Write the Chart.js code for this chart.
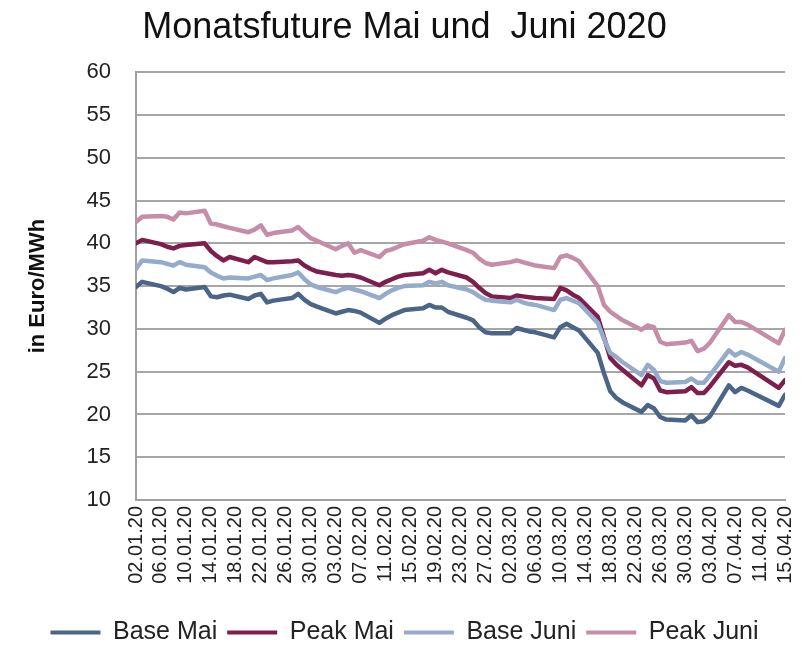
<!DOCTYPE html>
<html>
<head>
<meta charset="utf-8">
<script src="https://cdn.jsdelivr.net/npm/chart.js@4.4.1/dist/chart.umd.min.js"></script>
<style>
html,body{margin:0;padding:0;background:#fff;}
canvas{display:block;}
</style>
</head>
<body>
<canvas id="c" width="802" height="646"></canvas>
<script>
// ---- data ----
const startDate = '02.01.20';
const tradingDays = [
 '02.01.20','03.01.20','06.01.20','07.01.20','08.01.20','09.01.20','10.01.20','13.01.20','14.01.20','15.01.20','16.01.20','17.01.20','20.01.20','21.01.20','22.01.20','23.01.20','24.01.20','27.01.20','28.01.20','29.01.20','30.01.20','31.01.20',
 '03.02.20','04.02.20','05.02.20','06.02.20','07.02.20','10.02.20','11.02.20','12.02.20','13.02.20','14.02.20','17.02.20','18.02.20','19.02.20','20.02.20','21.02.20','24.02.20','25.02.20','26.02.20','27.02.20','28.02.20',
 '02.03.20','03.03.20','04.03.20','05.03.20','06.03.20','09.03.20','10.03.20','11.03.20','12.03.20','13.03.20','16.03.20','17.03.20','18.03.20','19.03.20','20.03.20','23.03.20','24.03.20','25.03.20','26.03.20','27.03.20','30.03.20','31.03.20',
 '01.04.20','02.04.20','03.04.20','06.04.20','07.04.20','08.04.20','09.04.20','14.04.20','15.04.20'
];
const baseMai = [
 34.9,35.5,35.0,34.7,34.3,34.8,34.6,34.9,33.8,33.7,33.9,34.0,33.5,33.9,34.1,33.1,33.3,33.6,34.1,33.4,32.9,32.6,
 31.8,32.0,32.2,32.1,31.9,30.7,31.2,31.6,31.9,32.2,32.4,32.8,32.5,32.5,32.0,31.3,31.0,30.2,29.6,29.5,
 29.5,30.1,29.9,29.7,29.6,29.0,30.2,30.6,30.2,29.8,27.2,24.8,22.7,21.9,21.4,20.3,21.1,20.7,19.7,19.4,19.3,19.9,
 19.1,19.2,19.8,23.4,22.6,23.1,22.8,21.0,22.3
];
const peakMai = [
 40.0,40.4,39.9,39.6,39.4,39.7,39.8,40.0,39.1,38.5,38.0,38.4,37.8,38.4,38.1,37.8,37.8,37.9,38.0,37.4,37.0,36.7,
 36.3,36.2,36.3,36.2,36.0,35.1,35.5,35.8,36.1,36.3,36.5,36.9,36.5,36.9,36.6,36.0,35.5,34.8,34.2,33.8,
 33.6,33.9,33.8,33.7,33.6,33.5,34.8,34.5,34.0,33.6,31.4,29.0,26.6,25.8,25.2,23.4,24.6,24.2,22.8,22.6,22.7,23.2,
 22.5,22.5,23.3,26.1,25.7,25.8,25.5,23.1,24.0
];
const baseJuni = [
 37.0,38.0,37.8,37.6,37.4,37.8,37.5,37.2,36.6,36.2,35.9,36.0,35.9,36.1,36.3,35.7,35.9,36.3,36.6,35.8,35.2,34.9,
 34.3,34.6,34.8,34.6,34.4,33.6,34.1,34.5,34.8,35.0,35.1,35.5,35.3,35.5,35.1,34.6,34.3,33.8,33.4,33.3,
 33.1,33.4,33.1,32.9,32.8,32.2,33.4,33.6,33.3,33.0,30.7,28.8,27.2,26.7,26.1,24.6,25.8,25.2,23.9,23.7,23.8,24.2,
 23.7,23.7,24.6,27.5,26.9,27.3,27.0,25.0,26.6
];
const peakJuni = [
 42.5,43.1,43.2,43.1,42.8,43.6,43.5,43.8,42.3,42.2,42.0,41.8,41.3,41.6,42.1,41.0,41.2,41.5,41.9,41.2,40.6,40.3,
 39.3,39.7,40.0,38.9,39.2,38.4,39.1,39.3,39.6,39.9,40.3,40.7,40.4,40.2,40.0,39.2,38.9,38.2,37.7,37.5,
 37.8,38.0,37.8,37.6,37.4,37.1,38.4,38.6,38.3,37.9,35.0,32.8,32.0,31.5,31.0,29.9,30.4,30.2,28.5,28.2,28.4,28.6,
 27.4,27.7,28.4,31.6,30.8,30.8,30.5,28.3,29.9
];
const tickLabels = [
 '02.01.20','06.01.20','10.01.20','14.01.20','18.01.20','22.01.20','26.01.20','30.01.20',
 '03.02.20','07.02.20','11.02.20','15.02.20','19.02.20','23.02.20','27.02.20',
 '02.03.20','06.03.20','10.03.20','14.03.20','18.03.20','22.03.20','26.03.20','30.03.20',
 '03.04.20','07.04.20','11.04.20','15.04.20'
];
const seriesNames = ['Base Mai','Peak Mai','Base Juni','Peak Juni'];
const seriesColors = ['#4b6587','#7e1e4c','#94abcb','#c68da9'];
const yTicks = {min: 10, max: 60, step: 5};

// ---- helpers ----
function parseDate(s){ const p = s.split('.').map(Number); return Date.UTC(2000+p[2], p[1]-1, p[0]); }
const DAY = 86400000;
const t0 = parseDate(startDate);
const dayIndex = s => Math.round((parseDate(s) - t0) / DAY);
const lastIndex = dayIndex(tickLabels[tickLabels.length-1]);
const tickStep = dayIndex(tickLabels[1]);

const seriesValues = [baseMai, peakMai, baseJuni, peakJuni];
const drawOrder = [3, 2, 1, 0];

Chart.defaults.font.family = "'Liberation Sans', Arial, sans-serif";
Chart.defaults.color = '#222';

const datasets = seriesNames.map((name, k) => ({
  label: name,
  data: tradingDays.map((d, i) => ({x: dayIndex(d), y: seriesValues[k][i]})),
  borderColor: seriesColors[k],
  backgroundColor: seriesColors[k],
  borderWidth: 4.5,
  borderJoinStyle: 'round',
  borderCapStyle: 'round',
  pointRadius: 0,
  pointHoverRadius: 0,
  tension: 0,
  fill: false,
  order: drawOrder[k]
}));

new Chart(document.getElementById('c'), {
  type: 'line',
  data: {datasets},
  options: {
    responsive: false,
    animation: false,
    events: [],
    layout: {padding: {left: 24, right: 17, top: 0, bottom: -9}},
    plugins: {
      title: {
        display: true,
        text: 'Monatsfuture Mai und  Juni 2020',
        color: '#111',
        font: {size: 36, weight: 'normal'},
        padding: {top: 6, bottom: 23}
      },
      legend: {
        position: 'bottom',
        labels: {
          font: {size: 25},
          color: '#222',
          boxWidth: 50,
          boxHeight: 4,
          padding: 10,
          sort: (a, b) => a.datasetIndex - b.datasetIndex,
          generateLabels: (chart) => Chart.defaults.plugins.legend.labels.generateLabels(chart).map(l => Object.assign(l, {lineWidth: 0}))
        }
      },
      tooltip: {enabled: false}
    },
    scales: {
      x: {
        type: 'linear',
        min: 0,
        max: lastIndex,
        grid: {display: false, drawTicks: false},
        border: {display: true, color: '#a0a0a0', width: 2},
        ticks: {
          stepSize: tickStep,
          autoSkip: false,
          maxRotation: 90,
          minRotation: 90,
          padding: 6,
          color: '#222',
          font: {size: 20},
          callback: (v) => tickLabels[Math.round(v / tickStep)] || ''
        },
        afterFit: (s) => { s.height = 110; s.paddingLeft = 0; s.paddingRight = 0; }
      },
      y: {
        min: yTicks.min,
        max: yTicks.max,
        grid: {color: '#a6a6a6', lineWidth: 2, drawTicks: false},
        border: {display: true, color: '#a0a0a0', width: 2},
        ticks: {stepSize: yTicks.step, padding: 25, color: '#222', font: {size: 22}},
        title: {
          display: true,
          text: 'in Euro/MWh',
          color: '#111',
          font: {size: 22, weight: 'bold'},
          padding: {top: 1, bottom: 0}
        },
        afterFit: (s) => { s.width = 112; }
      }
    }
  }
});
</script>
</body>
</html>
